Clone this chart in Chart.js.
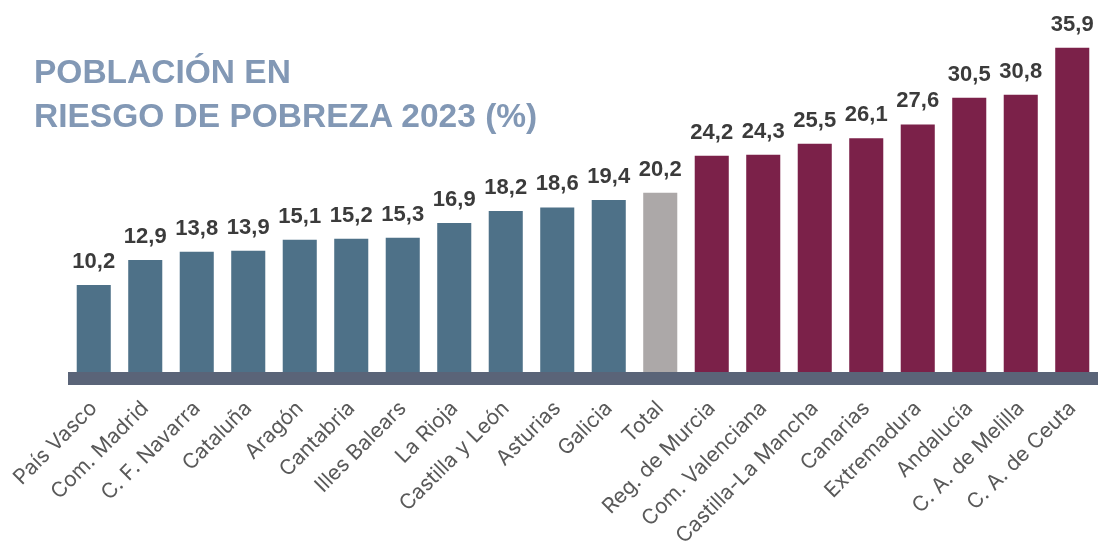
<!DOCTYPE html>
<html>
<head>
<meta charset="utf-8">
<script src="https://cdn.jsdelivr.net/npm/chart.js@4.4.1/dist/chart.umd.min.js"></script>
<style>
  body { margin: 0; background: #fff; }
  #wrap { position: relative; width: 1099px; height: 547px; }
  #title {
    position: absolute; left: 34px; top: 50px;
    font-family: 'Liberation Sans', Arial, sans-serif; font-weight: bold;
    font-size: 33.5px; line-height: 44px; color: #8298b5; white-space: nowrap;
  }
</style>
</head>
<body>
<div id="wrap">
  <canvas id="pobreza"></canvas>
  <div id="title">POBLACIÓN EN<br>RIESGO DE POBREZA 2023 (%)</div>
</div>
<script>
const regiones = ['País Vasco','Com. Madrid','C. F. Navarra','Cataluña','Aragón','Cantabria','Illes Balears','La Rioja','Castilla y León','Asturias','Galicia','Total','Reg. de Murcia','Com. Valenciana','Castilla-La Mancha','Canarias','Extremadura','Andalucía','C. A. de Melilla','C. A. de Ceuta']
const tasa = [10.2,12.9,13.8,13.9,15.1,15.2,15.3,16.9,18.2,18.6,19.4,20.2,24.2,24.3,25.5,26.1,27.6,30.5,30.8,35.9]

const azul = '#4e7188', gris = '#aca8a8', granate = '#7b2149'
const colores = tasa.map((v, i) => i < 11 ? azul : (i == 11 ? gris : granate))

// etiquetas encima de cada barra + franja del eje
const extras = {
  id: 'extras',
  afterDatasetsDraw(chart) {
    const c = chart.ctx
    const area = chart.chartArea
    const y0 = chart.scales.y.getPixelForValue(0)
    c.save()
    c.fillStyle = '#5a6478'
    c.fillRect(area.left, y0 - 6, area.right - area.left, 13)
    c.fillStyle = '#3b3b3b'
    c.font = 'bold 22px "Liberation Sans", Arial, sans-serif'
    c.textAlign = 'center'
    c.textBaseline = 'alphabetic'
    chart.getDatasetMeta(0).data.forEach((bar, i) => {
      c.fillText(tasa[i].toFixed(1).replace('.', ','), bar.x, bar.y - 16)
    })
    c.restore()
  }
}

new Chart(document.getElementById('pobreza'), {
  type: 'bar',
  data: {
    labels: regiones,
    datasets: [{
      data: tasa,
      backgroundColor: colores,
      borderColor: 'rgba(255,255,255,0.3)',
      borderWidth: 1,
      categoryPercentage: 1,
      barPercentage: 0.7
    }]
  },
  options: {
    responsive: true,
    maintainAspectRatio: false,
    animation: false,
    layout: { padding: { left: 68, right: 1, top: 9, bottom: 0 } },
    plugins: { legend: { display: false }, tooltip: { enabled: false } },
    scales: {
      x: {
        grid: { display: false, drawTicks: false },
        border: { display: false },
        ticks: {
          autoSkip: false, minRotation: 45, maxRotation: 45, padding: 18,
          color: '#595959',
          font: { family: 'Inter', size: 21 }
        },
        afterFit(scale) {
          scale.height = 169
          scale.paddingLeft = 0
          scale.paddingRight = 0
        }
      },
      y: { display: false, min: 0, max: 40 }
    }
  },
  plugins: [extras]
})
</script>
</body>
</html>
